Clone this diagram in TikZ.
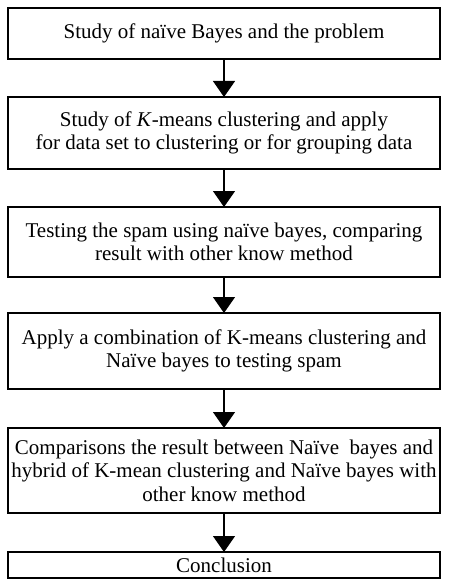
\documentclass[tikz,border=0pt]{standalone}
\usepackage{fontspec}
\setmainfont{Liberation Serif}
\usetikzlibrary{arrows.meta, positioning}
\usetikzlibrary{calc}

\begin{document}
\begin{tikzpicture}[
    box/.style={draw, line width=1.2pt, minimum width=432pt, inner sep=0pt, outer sep=0pt,
                align=center, font=\fontsize{21}{23.5}\selectfont},
    flow/.style={line width=1.2pt, -{Triangle[width=22pt,length=16pt]}}
  ]
   \useasboundingbox (0,0) rectangle (448pt,-588pt);
   % Boxes of the work plan
   \node[box, minimum height=51pt, anchor=north] (b1) at (224pt,-8pt) {Study of naïve Bayes and the problem};
   \node[box, minimum height=72pt, below = 38pt of b1] (b2) {Study of \textit{K}-means clustering and apply\\for data set to clustering or for grouping data};
   \node[box, minimum height=70pt, below = 38pt of b2] (b3) {Testing the spam using naïve bayes, comparing\\result with other know method};
   \node[box, minimum height=76pt, below = 36pt of b3] (b4) {Apply a combination of K-means clustering and\\Naïve bayes to testing spam};
   \node[box, minimum height=85pt, below = 39pt of b4] (b5) {Comparisons the result between Naïve~ bayes and\\hybrid of K-mean clustering and Naïve bayes with\\other know method};
   \node[box, minimum height=26pt, below = 39pt of b5] (b6) {Conclusion};
   % Connect the boxes with arrows
        \draw[flow]
            (b1) edge (b2)
            (b2) edge (b3)
            (b3) edge (b4)
            (b4) edge (b5)
            (b5) edge (b6)
           ;
\end{tikzpicture}
\end{document}
